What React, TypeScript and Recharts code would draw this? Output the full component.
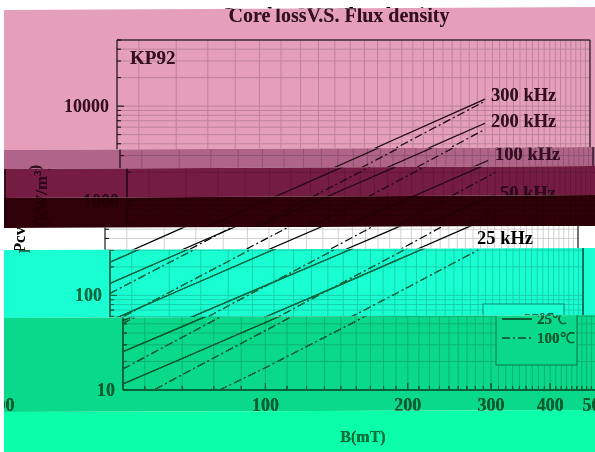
import { LineChart, Line, XAxis, YAxis, CartesianGrid, ReferenceLine } from 'recharts';

const B_FULL = [50, 70, 100, 150, 200, 300];
const B_50K_DASH = [58.5, 70, 100, 150, 200, 300];
const B_25K_DASH = [80, 100, 150, 200, 300];

const SOLID_300K = [224, 472, 1037, 2535, 4797, 11860];
const SOLID_200K = [134, 279, 604, 1449, 2711, 6590];
const SOLID_100K = [54, 112.5, 244, 585, 1094, 2667];
const SOLID_50K = [25.4, 51.9, 111, 262, 484, 1159];
const SOLID_25K = [11.6, 23.9, 51.7, 123, 230, 556];
const DASH_300K = [105, 252, 638, 1832, 3890, 11300];
const DASH_200K = [50.4, 122, 312, 904, 1936, 5690];
const DASH_100K = [16.7, 41, 106, 309, 667, 1986];
const DASH_50K = [10.2, 16.5, 42.4, 125, 267, 802];
const DASH_25K = [10, 17.2, 48.7, 103, 301];

const X_TICKS = [
  50, 55.6, 66.7, 77.8, 88.9, 100, 111.1, 122.2, 133.3, 144.4, 155.6, 166.7, 177.8, 188.9, 200,
  211.1, 222.2, 233.3, 244.4, 255.6, 266.7, 277.8, 288.9, 300, 311.1, 322.2, 333.3, 344.4, 355.6,
  366.7, 377.8, 388.9, 400, 411.1, 422.2, 433.3, 444.4, 455.6, 466.7, 477.8, 488.9, 500,
];
const X_LABELS = [100, 200, 300, 400, 500];
const Y_TICKS = [
  10, 20, 30, 40, 50, 60, 70, 80, 90, 100, 200, 300, 400, 500, 600, 700, 800, 900, 1000, 2000, 3000,
  4000, 5000, 6000, 7000, 8000, 9000, 10000, 20000, 30000, 40000, 50000,
];
const Y_LABELS = [10, 100, 1000, 10000];
const FREQ_LABELS = [
  { text: '300 kHz', x: 491, y: 101 },
  { text: '200 kHz', x: 491, y: 127 },
  { text: '100 kHz', x: 492, y: 160 },
  { text: '50 kHz', x: 490, y: 199 },
  { text: '25 kHz', x: 489, y: 244 },
];

const series = [
  { name: '300k', bs: B_FULL, ys: SOLID_300K, solid: true },
  { name: '300k-100', bs: B_FULL, ys: DASH_300K, solid: false },
  { name: '200k', bs: B_FULL, ys: SOLID_200K, solid: true },
  { name: '200k-100', bs: B_FULL, ys: DASH_200K, solid: false },
  { name: '100k', bs: B_FULL, ys: SOLID_100K, solid: true },
  { name: '100k-100', bs: B_FULL, ys: DASH_100K, solid: false },
  { name: '50k', bs: B_FULL, ys: SOLID_50K, solid: true },
  { name: '50k-100', bs: B_50K_DASH, ys: DASH_50K, solid: false },
  { name: '25k', bs: B_FULL, ys: SOLID_25K, solid: true },
  { name: '25k-100', bs: B_25K_DASH, ys: DASH_25K, solid: false },
];

// [left y, right y, x shift, tint, darkest colour]
const BANDS: [number, number, number, string | null, string | null][] = [
  [-2, -2, -8, null, null],
  [10, 7, 0, '#e59fbb', '#3a0a1e'],
  [150, 147, 3, '#b0648a', '#3a0a1e'],
  [169, 166, 10, '#751c42', '#30061a'],
  [198, 195, 10, '#2f0008', '#220006'],
  [228, 226, -12, null, null],
  [250, 248, -7, '#1affd2', '#0b6b3a'],
  [318, 315, 6, '#00d98c', '#0a5f2a'],
  [412, 410, 6, '#00ffaa', '#0b7034'],
  [452, 452, 0, null, null],
];

const FONT = '"Liberation Serif", serif';
const DASH = '8 3 2 3';

function XTick({ x, y, payload }: any) {
  const major = X_LABELS.includes(payload.value);
  return (
    <g>
      <line x1={x} x2={x} y1={y} y2={y - (major ? 7 : 4)} stroke="#000" />
      {major && (
        <text x={x} y={y + 21} textAnchor="middle" fontFamily={FONT} fontWeight="bold" fontSize={18} fill="#000">
          {payload.value}
        </text>
      )}
    </g>
  );
}

function YTick({ x, y, payload }: any) {
  const major = Y_LABELS.includes(payload.value);
  return (
    <g>
      <line x1={x} x2={x + (major ? 7 : 4)} y1={y} y2={y} stroke="#000" />
      {major && (
        <text x={x - 8} y={y + 6} textAnchor="end" fontFamily={FONT} fontWeight="bold" fontSize={18} fill="#000">
          {payload.value}
        </text>
      )}
    </g>
  );
}

function Plot() {
  return (
    <LineChart width={640} height={452} margin={{ top: 40, right: 50, bottom: 61, left: 116 }}>
      <CartesianGrid stroke="#d0d0d0" strokeWidth={1} syncWithTicks />
      <XAxis
        type="number"
        dataKey="b"
        scale="log"
        domain={[50, 500]}
        ticks={X_TICKS}
        interval={0}
        height={1}
        tickSize={0}
        tickMargin={0}
        tickLine={false}
        tick={<XTick />}
        axisLine={{ stroke: '#000' }}
        allowDataOverflow
      />
      <YAxis
        type="number"
        dataKey="v"
        scale="log"
        domain={[10, 50000]}
        ticks={Y_TICKS}
        interval={0}
        width={1}
        tickSize={0}
        tickMargin={0}
        tickLine={false}
        tick={<YTick />}
        axisLine={{ stroke: '#000' }}
        allowDataOverflow
      />
      <ReferenceLine x={500} stroke="#000" />
      <ReferenceLine y={50000} stroke="#000" />
      {series.map(s => (
        <Line
          key={s.name}
          data={s.bs.map((b, i) => ({ b, v: s.ys[i] }))}
          dataKey="v"
          type="linear"
          stroke="#000"
          strokeWidth={1.2}
          strokeDasharray={s.solid ? undefined : DASH}
          dot={false}
          activeDot={false}
          isAnimationActive={false}
        />
      ))}
      <text x={339} y={22} textAnchor="middle" fontFamily={FONT} fontWeight="bold" fontSize={20} fill="#000">
        Core lossV.S. Flux density
      </text>
      <text x={130} y={64} fontFamily={FONT} fontWeight="bold" fontSize={19} fill="#000">KP92</text>
      {FREQ_LABELS.map(l => (
        <text key={l.text} x={l.x} y={l.y} fontFamily={FONT} fontWeight="bold" fontSize={18.5} fill="#000">
          {l.text}
        </text>
      ))}
      <text
        transform="translate(37 209) rotate(-90)"
        textAnchor="middle"
        fontFamily={FONT}
        fontWeight="bold"
        fontSize={17}
        fill="#000"
      >
        Pcv(kW/m<tspan dy={-6} fontSize={11}>3</tspan><tspan dy={6}>)</tspan>
      </text>
      <text x={357} y={442} textAnchor="middle" fontFamily={FONT} fontWeight="bold" fontSize={16} fill="#000">
        B(mT)
      </text>
      <g>
        <rect x={490} y={304} width={81} height={61} fill="#fff" stroke="#888" />
        <line x1={496} x2={526} y1={319} y2={319} stroke="#000" strokeWidth={1.2} />
        <line x1={496} x2={526} y1={338} y2={338} stroke="#000" strokeWidth={1.2} strokeDasharray={DASH} />
        <text x={531} y={324} fontFamily={FONT} fontSize={15} fontWeight="bold" fill="#000">
          25<tspan fontWeight="normal">℃</tspan>
        </text>
        <text x={531} y={343} fontFamily={FONT} fontSize={15} fontWeight="bold" fill="#000">
          100<tspan fontWeight="normal">℃</tspan>
        </text>
      </g>
    </LineChart>
  );
}

function Band({ i }: { i: number }) {
  const [yl, yr, dx, tint, dark] = BANDS[i];
  const [yl2, yr2] = BANDS[i + 1];
  const poly = `polygon(4px ${yl}px, 595px ${yr}px, 595px ${yr2}px, 4px ${yl2}px)`;
  const fill = { position: 'absolute', left: 0, top: 0, width: 595, height: 452 } as const;
  return (
    <div style={{ ...fill, clipPath: poly, isolation: 'isolate', background: '#fff', overflow: 'hidden' }}>
      <div style={{ position: 'absolute', left: dx, top: 0, mixBlendMode: 'multiply', filter: 'blur(0.35px)' }}>
        <Plot />
      </div>
      {dx > 0 && (
        <div style={{ position: 'absolute', left: dx - 595, top: 0, mixBlendMode: 'multiply', filter: 'blur(0.35px)' }}>
          <Plot />
        </div>
      )}
      {tint && <div style={{ ...fill, background: tint, mixBlendMode: 'multiply' }} />}
      {dark && <div style={{ ...fill, background: dark, mixBlendMode: 'lighten' }} />}
    </div>
  );
}

export default function App() {
  return (
    <div style={{ position: 'absolute', left: 0, top: 0, width: 595, height: 452, overflow: 'hidden', background: '#fff' }}>
      {BANDS.slice(0, -1).map((_, i) => (
        <Band key={i} i={i} />
      ))}
    </div>
  );
}
